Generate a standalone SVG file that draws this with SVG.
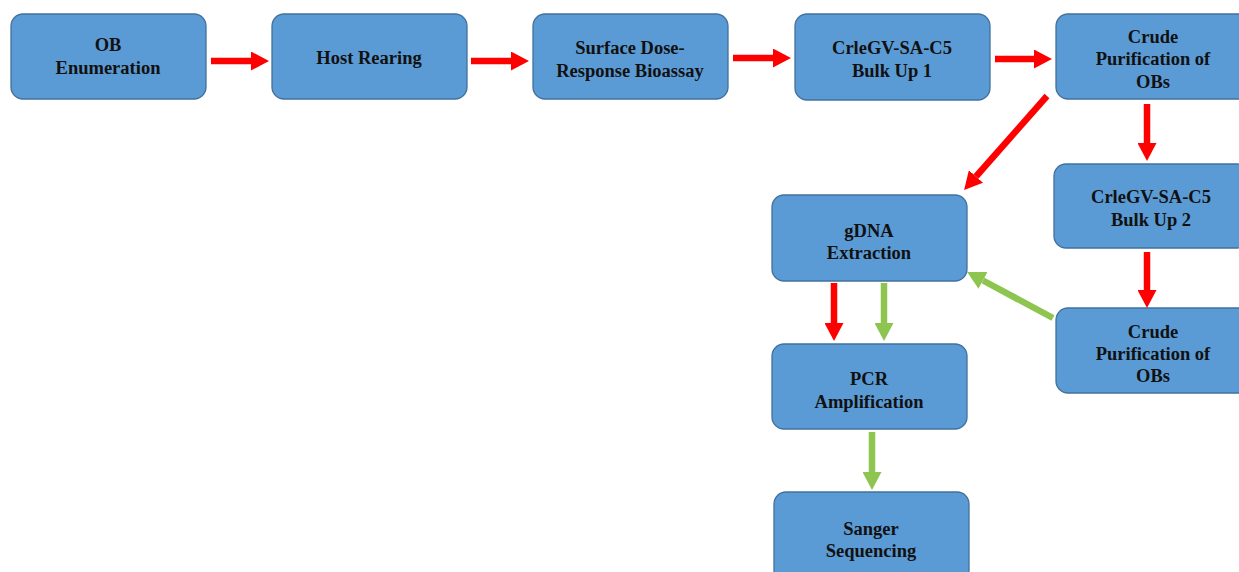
<svg xmlns="http://www.w3.org/2000/svg" width="1239" height="572" viewBox="0 0 1239 572">
<style>
.box{fill:#5b9bd5;stroke:#41719c;stroke-width:1.3}
.t{font-family:"Liberation Serif","Times New Roman",serif;font-weight:bold;font-size:18.5px;fill:#111;text-anchor:middle}
.r{stroke:#ff0000;stroke-width:6.5;fill:none}
.g{stroke:#8dc550;stroke-width:6.5;fill:none}
</style>
<defs>
<marker id="hr" viewBox="0 0 18 19" markerWidth="18" markerHeight="19" markerUnits="userSpaceOnUse" refX="0" refY="9.5" orient="auto"><path d="M0,0 L18,9.5 L0,19 z" fill="#ff0000"/></marker>
<marker id="hg" viewBox="0 0 18 19" markerWidth="18" markerHeight="19" markerUnits="userSpaceOnUse" refX="0" refY="9.5" orient="auto"><path d="M0,0 L18,9.5 L0,19 z" fill="#8dc550"/></marker>
</defs>
<rect width="1239" height="572" fill="#fff"/>
<g id="n1"><rect class="box" x="11" y="14" width="195" height="85" rx="12"/><text class="t" x="108" y="51">OB</text><text class="t" x="108" y="74">Enumeration</text></g>
<g id="n2"><rect class="box" x="272" y="14" width="195" height="85" rx="12"/><text class="t" x="369" y="64">Host Rearing</text></g>
<g id="n3"><rect class="box" x="533" y="14" width="195" height="85" rx="12"/><text class="t" x="630" y="54">Surface Dose-</text><text class="t" x="630" y="77">Response Bioassay</text></g>
<g id="n4"><rect class="box" x="795" y="14" width="195" height="86" rx="12"/><text class="t" x="892" y="54">CrleGV-SA-C5</text><text class="t" x="892" y="77">Bulk Up 1</text></g>
<g id="n5"><rect class="box" x="1056" y="14" width="195" height="85" rx="12"/><text class="t" x="1153" y="43">Crude</text><text class="t" x="1153" y="65">Purification of</text><text class="t" x="1153" y="88">OBs</text></g>
<g id="n6"><rect class="box" x="772" y="195" width="195" height="86" rx="12"/><text class="t" x="869" y="237">gDNA</text><text class="t" x="869" y="259">Extraction</text></g>
<g id="n7"><rect class="box" x="1054" y="164" width="195" height="84" rx="12"/><text class="t" x="1151" y="203">CrleGV-SA-C5</text><text class="t" x="1151" y="226">Bulk Up 2</text></g>
<g id="n8"><rect class="box" x="1056" y="308" width="195" height="85" rx="12"/><text class="t" x="1153" y="338">Crude</text><text class="t" x="1153" y="360">Purification of</text><text class="t" x="1153" y="382">OBs</text></g>
<g id="n9"><rect class="box" x="772" y="344" width="195" height="85" rx="12"/><text class="t" x="869" y="385">PCR</text><text class="t" x="869" y="408">Amplification</text></g>
<g id="n10"><rect class="box" x="774" y="492" width="195" height="90" rx="12"/><text class="t" x="871" y="535">Sanger</text><text class="t" x="871" y="557">Sequencing</text></g>
<g id="connectors">
<line class="r" x1="211" y1="61" x2="251" y2="61" marker-end="url(#hr)"/>
<line class="r" x1="471" y1="61" x2="511" y2="61" marker-end="url(#hr)"/>
<line class="r" x1="733" y1="58" x2="773" y2="58" marker-end="url(#hr)"/>
<line class="r" x1="995" y1="59" x2="1034" y2="59" marker-end="url(#hr)"/>
<line class="r" x1="1047" y1="96" x2="976" y2="176.5" marker-end="url(#hr)"/>
<line class="r" x1="1147" y1="104" x2="1147" y2="143" marker-end="url(#hr)"/>
<line class="r" x1="1147" y1="252" x2="1147" y2="290" marker-end="url(#hr)"/>
<line class="g" x1="1053" y1="318" x2="983" y2="280.5" marker-end="url(#hg)"/>
<line class="r" x1="834" y1="283" x2="834" y2="323" marker-end="url(#hr)"/>
<line class="g" x1="884" y1="283" x2="884" y2="323" marker-end="url(#hg)"/>
<line class="g" x1="872" y1="432" x2="872" y2="472" marker-end="url(#hg)"/>
</g>
</svg>
